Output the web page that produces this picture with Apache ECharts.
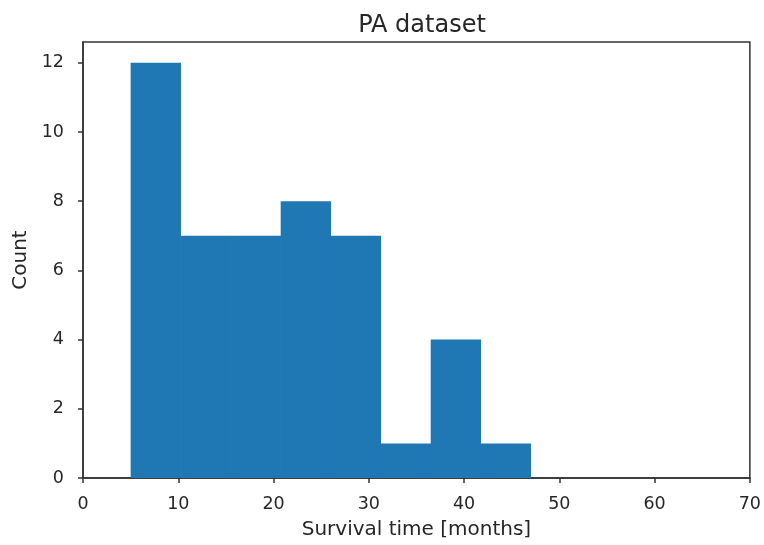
<!DOCTYPE html>
<html>
<head>
<meta charset="utf-8">
<script src="https://cdn.jsdelivr.net/npm/echarts@6/dist/echarts.min.js"></script>
<style>html,body{margin:0;padding:0;background:#fff;}#c{width:764px;height:545px;}</style>
</head>
<body>
<div id="c"></div>
<script>
var binEdges = [5.0, 10.25, 15.5, 20.75, 26.0, 31.25, 36.5, 41.75, 47.0];
var counts = [12, 7, 7, 8, 7, 1, 4, 1];
var xTicks = [0, 10, 20, 30, 40, 50, 60, 70];
var yTicks = [0, 2, 4, 6, 8, 10, 12];

var data = counts.map(function (c, i) { return [binEdges[i], binEdges[i + 1], c]; });
var font = 'DejaVu Sans';
var ink = '#262626';
var chart = echarts.init(document.getElementById('c'), null, { renderer: 'canvas' });
chart.setOption({
  animation: false,
  title: { text: 'PA dataset', left: 417, textAlign: 'center', top: 9, textStyle: { fontFamily: font, fontSize: 24, fontWeight: 'normal', color: ink } },
  grid: { left: 83, right: 12, top: 42, bottom: 67, show: true, borderColor: '#333', borderWidth: 1.5, backgroundColor: 'transparent' },
  xAxis: {
    type: 'value', min: 0, max: 70, interval: 10,
    name: 'Survival time [months]', nameLocation: 'middle', nameGap: 42,
    nameTextStyle: { fontFamily: font, fontSize: 20, color: ink },
    axisLine: { show: true, lineStyle: { color: '#333', width: 1.5 } },
    axisTick: { show: true, inside: false, length: 5, lineStyle: { color: '#333', width: 1.5 }, customValues: xTicks },
    axisLabel: { fontFamily: font, fontSize: 17.5, color: ink, margin: 17, customValues: xTicks },
    splitLine: { show: false }
  },
  yAxis: {
    type: 'value', min: 0, max: 12.6, interval: 2,
    name: 'Count', nameLocation: 'middle', nameGap: 48, nameRotate: 90,
    nameTextStyle: { fontFamily: font, fontSize: 20, color: ink },
    axisLine: { show: true, lineStyle: { color: '#333', width: 1.5 } },
    axisTick: { show: true, inside: false, length: 5, lineStyle: { color: '#333', width: 1.5 }, customValues: yTicks },
    axisLabel: { fontFamily: font, fontSize: 17.5, color: ink, margin: 19, customValues: yTicks },
    splitLine: { show: false }
  },
  series: [{
    type: 'custom',
    data: data,
    encode: { x: [0, 1], y: 2 },
    renderItem: function (params, api) {
      var p0 = api.coord([api.value(0), 0]);
      var p1 = api.coord([api.value(1), api.value(2)]);
      return {
        type: 'rect',
        shape: { x: p0[0], y: p1[1], width: p1[0] - p0[0] + 0.3, height: p0[1] - p1[1] },
        style: { fill: '#1f77b4' }
      };
    }
  }]
});
</script>
</body>
</html>
